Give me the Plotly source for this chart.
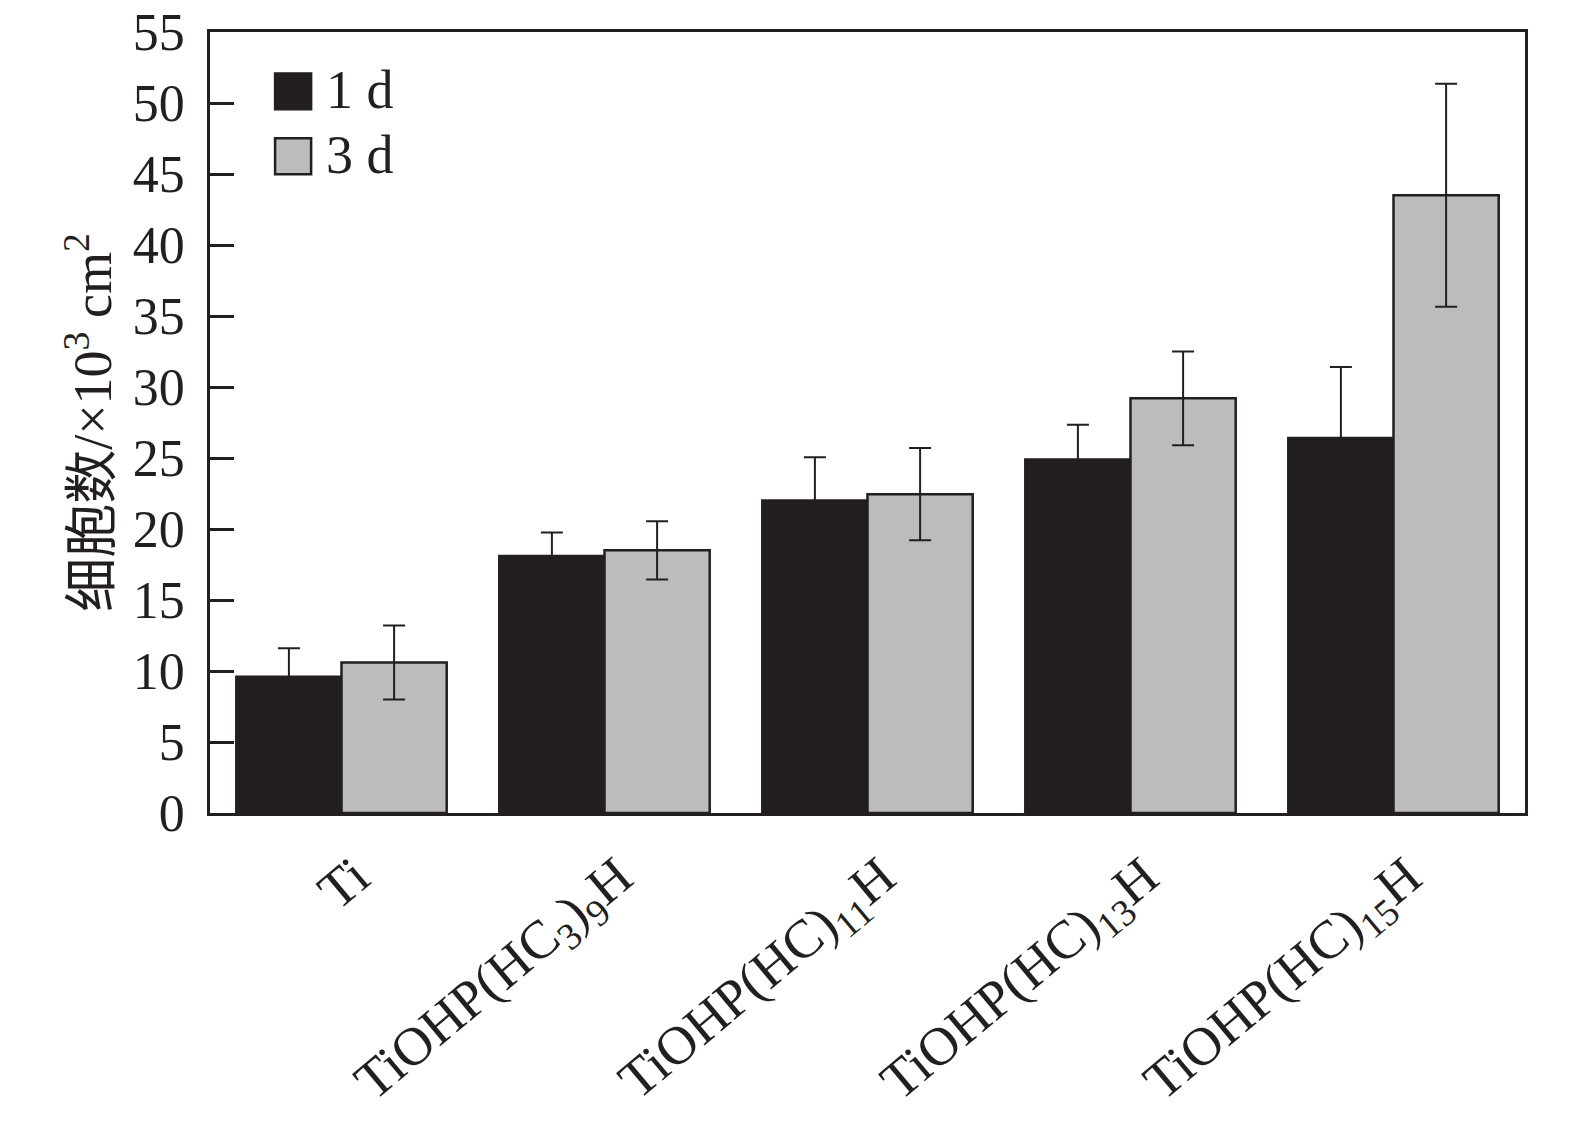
import plotly.graph_objects as go

# values
categories = ['Ti', 'TiOHP(HC<sub>3</sub>)<sub>9</sub>H', 'TiOHP(HC)<sub>11</sub>H',
              'TiOHP(HC)<sub>13</sub>H', 'TiOHP(HC)<sub>15</sub>H']
day1 = [9.6, 18.1, 22.0, 24.9, 26.4]
day1_err = [2.0, 1.65, 3.05, 2.45, 5.0]
day3 = [10.6, 18.5, 22.45, 29.2, 43.5]
day3_err = [2.6, 2.05, 3.25, 3.3, 7.85]
series_names = ['1 d', '3 d']
y_ticks = list(range(0, 56, 5))

DARK = '#231f20'
GREY = '#bcbcbc'
FONT = 'Liberation Serif, Times New Roman, Noto Sans CJK SC, serif'

fig = go.Figure()
for name, vals, errs, color in zip(series_names, [day1, day3], [day1_err, day3_err], [DARK, GREY]):
    fig.add_trace(go.Bar(
        x=categories, y=vals, name=name,
        marker=dict(color=color, line=dict(color=DARK, width=2.5)),
        error_y=dict(type='data', array=errs, visible=True,
                     color=DARK, thickness=2, width=11),
        showlegend=False,
    ))

# legend drawn by hand so the swatches are as big as in the original
swatch_top = [0.947, 0.864]
for name, color, top in zip(series_names, [DARK, GREY], swatch_top):
    fig.add_shape(type='rect', xref='paper', yref='paper',
                  x0=0.0495, x1=0.0769, y0=top - 0.046, y1=top,
                  fillcolor=color, line=dict(color=DARK, width=2.5))
    fig.add_annotation(text=name, xref='paper', yref='paper',
                       x=0.087, y=top - 0.021, xanchor='left', yanchor='middle',
                       showarrow=False, font=dict(size=54, color=DARK, family=FONT))

fig.update_layout(
    width=1575, height=1128,
    margin=dict(l=202, r=58, t=24, b=323),
    paper_bgcolor='white', plot_bgcolor='white',
    barmode='group', bargap=0.2, bargroupgap=0,
    font=dict(family=FONT, color=DARK),
)
fig.update_xaxes(
    automargin=False,
    showline=True, linecolor=DARK, linewidth=2.5, mirror=True,
    ticks='', tickangle=-40, tickfont=dict(size=54, family=FONT),
    ticklabelshift=14, ticklabelstandoff=8,
)
fig.update_yaxes(
    automargin=False,
    range=[0, 55], tickvals=y_ticks, showgrid=False, zeroline=False,
    showline=True, linecolor=DARK, linewidth=2.5, mirror=True,
    ticks='inside', ticklen=24, tickwidth=2.5, tickcolor=DARK,
    tickfont=dict(size=52, family=FONT), ticklabelstandoff=12,
    ticklabeloverflow='allow',
    title=dict(text='细胞数/×10<sup>3</sup> cm<sup>2</sup>', standoff=4,
               font=dict(size=54, family=FONT)),
)

fig.write_html('out.html')
